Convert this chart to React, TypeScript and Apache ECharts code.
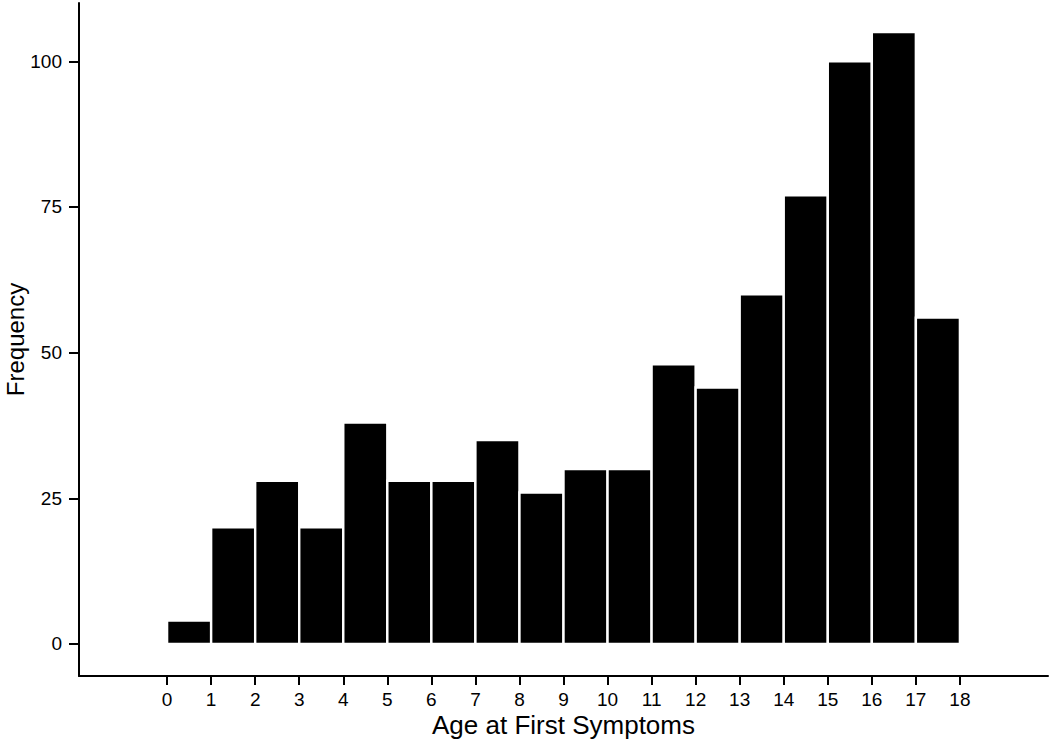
import React, { useEffect, useRef } from "react";
import * as echarts from "echarts";

const binStarts = [0, 1, 2, 3, 4, 5, 6, 7, 8, 9, 10, 11, 12, 13, 14, 15, 16, 17];
const binWidth = 1;
const frequencies = [4, 20, 28, 20, 38, 28, 28, 35, 26, 30, 30, 48, 44, 60, 77, 100, 105, 56];
const xTicks = [0, 1, 2, 3, 4, 5, 6, 7, 8, 9, 10, 11, 12, 13, 14, 15, 16, 17, 18];
const yTicks = [0, 25, 50, 75, 100];

const FONT = "Liberation Sans";

const near = (v: number, list: number[]) => list.some((t) => Math.abs(t - v) < 1e-6);

export default function App() {
  const ref = useRef<HTMLDivElement>(null);
  useEffect(() => {
    if (!ref.current) return;
    const chart = echarts.init(ref.current, null, { renderer: "svg" });
    const data = binStarts.map((s, i) => [s, s + binWidth, frequencies[i]]);
    chart.setOption({
      animation: false,
      backgroundColor: "#fff",
      grid: { left: 79, right: 2, top: 3, bottom: 72, outerBoundsMode: "none", containLabel: false },
      xAxis: {
        type: "value",
        min: -2,
        max: 20,
        interval: 1,
        name: "Age at First Symptoms",
        nameLocation: "middle",
        nameGap: 36,
        nameMoveOverlap: false,
        nameTextStyle: { fontFamily: FONT, fontSize: 26, color: "#000" },
        splitLine: { show: false },
        axisLine: { onZero: false, lineStyle: { color: "#000", width: 2 } },
        axisTick: { show: true, customValues: xTicks, length: 9, lineStyle: { color: "#000", width: 2 } },
        axisLabel: {
          show: true,
          fontFamily: FONT,
          fontSize: 19,
          color: "#000",
          margin: 14,
          showMinLabel: true,
          showMaxLabel: true,
          formatter: (v: number) => (near(v, xTicks) ? String(Math.round(v)) : ""),
        },
      },
      yAxis: {
        type: "value",
        min: -5.5,
        max: 110,
        interval: 0.5,
        name: "Frequency",
        nameLocation: "middle",
        nameGap: 52,
        nameMoveOverlap: false,
        nameTextStyle: { fontFamily: FONT, fontSize: 24, color: "#000" },
        splitLine: { show: false },
        axisLine: { show: true, onZero: false, lineStyle: { color: "#000", width: 2 } },
        axisTick: { show: true, customValues: yTicks, length: 10, lineStyle: { color: "#000", width: 2 } },
        axisLabel: {
          show: true,
          fontFamily: FONT,
          fontSize: 19,
          color: "#000",
          margin: 17,
          formatter: (v: number) => (near(v, yTicks) ? String(Math.round(v)) : ""),
        },
      },
      series: [
        {
          type: "custom",
          data,
          encode: { x: [0, 1], y: 2 },
          renderItem: (params: any, api: any) => {
            const p0 = api.coord([api.value(0), 0]);
            const p1 = api.coord([api.value(1), api.value(2)]);
            return {
              type: "rect",
              shape: { x: p0[0], y: p1[1], width: p1[0] - p0[0], height: p0[1] - p1[1] },
              style: { fill: "#000", stroke: "#fff", lineWidth: 2.4 },
            };
          },
        },
      ],
    });
    return () => chart.dispose();
  }, []);
  return <div ref={ref} style={{ width: 1050, height: 748, position: "absolute", left: 0, top: 0 }} />;
}
